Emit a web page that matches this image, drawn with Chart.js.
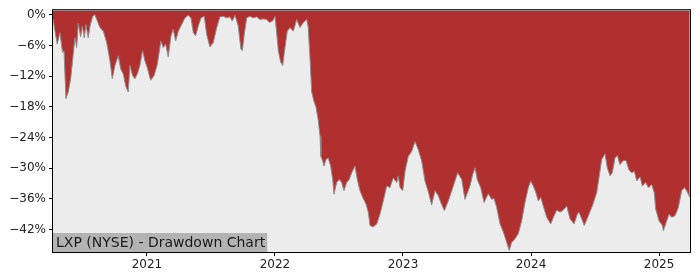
<!DOCTYPE html>
<html>
<head>
<meta charset="utf-8">
<script src="https://cdn.jsdelivr.net/npm/chart.js@4"></script>
<style>
  html, body { margin: 0; padding: 0; background: #fff; }
  #wrap { width: 700px; height: 280px; }
</style>
</head>
<body>
<div id="wrap"><canvas id="ddChart" width="700" height="280"></canvas></div>
<script>
// Drawdown series, x as fractional year, y in percent
const years = [
  2020.266, 2020.281, 2020.299, 2020.320, 2020.341, 2020.352, 2020.367, 2020.385, 2020.404, 2020.424,
  2020.438, 2020.451, 2020.463, 2020.482, 2020.495, 2020.510, 2020.523, 2020.541, 2020.555, 2020.576,
  2020.594, 2020.612, 2020.633, 2020.659, 2020.685, 2020.711, 2020.729, 2020.750, 2020.776, 2020.795,
  2020.815, 2020.836, 2020.854, 2020.867, 2020.888, 2020.906, 2020.924, 2020.945, 2020.966, 2020.984,
  2021.002, 2021.029, 2021.055, 2021.080, 2021.109, 2021.127, 2021.146, 2021.166, 2021.188, 2021.205,
  2021.224, 2021.245, 2021.271, 2021.297, 2021.323, 2021.344, 2021.362, 2021.380, 2021.401, 2021.422,
  2021.448, 2021.466, 2021.492, 2021.518, 2021.545, 2021.570, 2021.596, 2021.623, 2021.648, 2021.666,
  2021.688, 2021.713, 2021.734, 2021.745, 2021.760, 2021.779, 2021.805, 2021.830, 2021.857, 2021.883,
  2021.909, 2021.935, 2021.955, 2021.982, 2022.000, 2022.013, 2022.026, 2022.045, 2022.060, 2022.078,
  2022.096, 2022.117, 2022.143, 2022.170, 2022.195, 2022.221, 2022.248, 2022.260, 2022.273, 2022.287,
  2022.305, 2022.320, 2022.338, 2022.352, 2022.359, 2022.373, 2022.383, 2022.398, 2022.416, 2022.435,
  2022.451, 2022.461, 2022.482, 2022.502, 2022.521, 2022.539, 2022.560, 2022.580, 2022.599, 2022.625,
  2022.643, 2022.664, 2022.685, 2022.711, 2022.729, 2022.742, 2022.766, 2022.795, 2022.820, 2022.846,
  2022.873, 2022.898, 2022.924, 2022.951, 2022.963, 2022.977, 2022.998, 2023.016, 2023.041, 2023.068,
  2023.094, 2023.120, 2023.146, 2023.172, 2023.198, 2023.224, 2023.250, 2023.276, 2023.297, 2023.323,
  2023.354, 2023.393, 2023.427, 2023.459, 2023.484, 2023.523, 2023.545, 2023.563, 2023.580, 2023.607,
  2023.633, 2023.666, 2023.693, 2023.711, 2023.732, 2023.758, 2023.784, 2023.810, 2023.830, 2023.849,
  2023.875, 2023.901, 2023.927, 2023.953, 2023.979, 2023.998, 2024.018, 2024.039, 2024.057, 2024.076,
  2024.096, 2024.123, 2024.154, 2024.180, 2024.201, 2024.227, 2024.252, 2024.279, 2024.305, 2024.336,
  2024.362, 2024.375, 2024.396, 2024.416, 2024.448, 2024.479, 2024.513, 2024.531, 2024.552, 2024.578,
  2024.596, 2024.617, 2024.635, 2024.656, 2024.674, 2024.695, 2024.721, 2024.742, 2024.766, 2024.787,
  2024.807, 2024.826, 2024.852, 2024.870, 2024.896, 2024.916, 2024.943, 2024.963, 2024.974, 2025.000,
  2025.026, 2025.034, 2025.052, 2025.078, 2025.099, 2025.125, 2025.151, 2025.177, 2025.198, 2025.216,
  2025.240
];
const drawdown = [
  -0.8, -3.1, -5.7, -3.5, -7.4, -7.0, -16.4, -15.1, -12.5, -7.7,
  -4.5, -6.4, -1.7, -4.3, -2.2, -4.5, -1.9, -4.5, -2.2, -0.3,
  0.0, -1.2, -2.5, -3.2, -5.4, -9.0, -12.5, -9.9, -8.0, -10.6,
  -11.6, -14.1, -15.1, -9.9, -11.9, -12.5, -11.6, -9.9, -7.0, -9.0,
  -10.3, -12.8, -11.9, -9.8, -5.1, -6.4, -5.7, -8.2, -4.1, -2.8,
  -5.1, -3.2, -1.9, -0.6, -0.1, -0.6, -3.5, -4.1, -2.2, -0.6,
  -0.3, -3.8, -6.3, -5.4, -2.5, -0.4, -0.3, -0.6, -0.4, -1.2,
  -0.1, -2.2, -6.7, -7.0, -3.8, -0.6, -0.3, -0.6, -0.4, -0.9,
  -0.8, -0.9, -1.5, -1.2, -0.3, -3.5, -7.0, -9.3, -9.9, -6.4,
  -3.2, -2.5, -3.2, -0.9, -2.5, -1.5, -0.9, -2.5, -8.3, -15.1,
  -17.0, -18.0, -20.6, -23.8, -27.7, -28.6, -29.6, -28.3, -28.0, -29.6,
  -32.2, -35.1, -32.8, -32.2, -32.8, -34.4, -32.8, -32.2, -30.9, -29.6,
  -32.2, -34.4, -35.7, -37.0, -38.6, -41.2, -41.5, -40.9, -39.0, -36.4,
  -33.5, -33.8, -31.9, -32.8, -31.5, -33.8, -34.4, -30.6, -27.7, -26.7,
  -24.8, -26.4, -28.6, -32.5, -34.6, -37.2, -34.4, -35.4, -36.8, -38.3,
  -36.4, -33.5, -30.9, -32.2, -36.1, -33.5, -31.2, -29.9, -32.2, -33.8,
  -36.7, -35.0, -36.1, -35.9, -37.7, -40.9, -42.5, -44.5, -46.1, -44.5,
  -43.8, -42.8, -40.3, -36.7, -33.8, -32.5, -33.5, -34.8, -36.4, -35.7,
  -37.4, -39.6, -40.9, -39.3, -38.2, -38.6, -38.2, -37.4, -39.9, -40.9,
  -39.0, -38.6, -39.9, -41.2, -39.3, -37.4, -34.8, -31.9, -28.3, -27.2,
  -29.9, -31.5, -30.9, -28.0, -27.5, -29.3, -28.5, -28.5, -30.4, -30.9,
  -30.6, -32.5, -31.7, -33.5, -32.8, -33.8, -33.2, -34.8, -38.0, -40.3,
  -41.2, -42.2, -40.9, -39.0, -39.6, -39.3, -37.7, -34.4, -33.8, -34.4,
  -35.7
];
const xTicks = [2021, 2022, 2023, 2024, 2025];
const yTicks = [0, -6, -12, -18, -24, -30, -36, -42];
const chartLabel = 'LXP (NYSE) - Drawdown Chart';

const FONT = "'DejaVu Sans', sans-serif";

/* ── Plot background + frame + label box ── */
const framePlugin = {
  id: 'frame',
  beforeDatasetsDraw(chart) {
    const { ctx, chartArea: a } = chart;
    ctx.save();
    ctx.fillStyle = '#ececec';
    ctx.fillRect(a.left, a.top, a.right - a.left, a.bottom - a.top);
    ctx.restore();
  },
  afterDatasetsDraw(chart) {
    const { ctx, chartArea: a } = chart;
    ctx.save();
    ctx.font = '14px ' + FONT;
    const w = ctx.measureText(chartLabel).width;
    ctx.fillStyle = '#b3b3b3';
    ctx.fillRect(a.left, a.bottom - 19, w + 5, 19);
    ctx.fillStyle = '#1a1a1a';
    ctx.textBaseline = 'alphabetic';
    ctx.fillText(chartLabel, a.left + 3, a.bottom - 5);
    ctx.strokeStyle = '#000';
    ctx.lineWidth = 1;
    ctx.strokeRect(a.left - 0.5, a.top - 0.5, a.right - a.left + 1, a.bottom - a.top + 1);
    ctx.restore();
  },
};

new Chart(document.getElementById('ddChart'), {
  type: 'line',
  data: {
    datasets: [
      {
        data: years.map((x, i) => ({ x, y: drawdown[i] })),
        borderColor: '#8c8c8c',
        borderWidth: 1,
        backgroundColor: '#b03030',
        fill: 'end',
        pointRadius: 0,
        tension: 0,
      },
    ],
  },
  options: {
    responsive: false,
    animation: false,
    layout: { padding: { left: 0, right: 10, top: 7, bottom: 0 } },
    plugins: {
      legend: { display: false },
      tooltip: { enabled: false },
    },
    scales: {
      x: {
        type: 'linear',
        min: 2020.266,
        max: 2025.242,
        afterBuildTicks: (s) => { s.ticks = xTicks.map((v) => ({ value: v })); },
        afterFit: (s) => { s.height = 28; },
        grid: { drawOnChartArea: false, tickLength: 4, color: '#000' },
        border: { display: false },
        ticks: {
          color: '#222',
          font: { family: FONT, size: 12 },
          padding: 2,
          maxRotation: 0,
          callback: (v) => String(v),
        },
      },
      y: {
        min: -46.4,
        max: 0.9,
        afterBuildTicks: (s) => { s.ticks = yTicks.map((v) => ({ value: v })); },
        afterFit: (s) => { s.width = 53; },
        grid: { drawOnChartArea: false, tickLength: 4, color: '#000' },
        border: { display: false },
        ticks: {
          color: '#222',
          font: { family: FONT, size: 12 },
          padding: 3,
          callback: (v) => (v === 0 ? '0%' : '\u2212' + Math.abs(v) + '%'),
        },
      },
    },
  },
  plugins: [framePlugin],
});
</script>
</body>
</html>
